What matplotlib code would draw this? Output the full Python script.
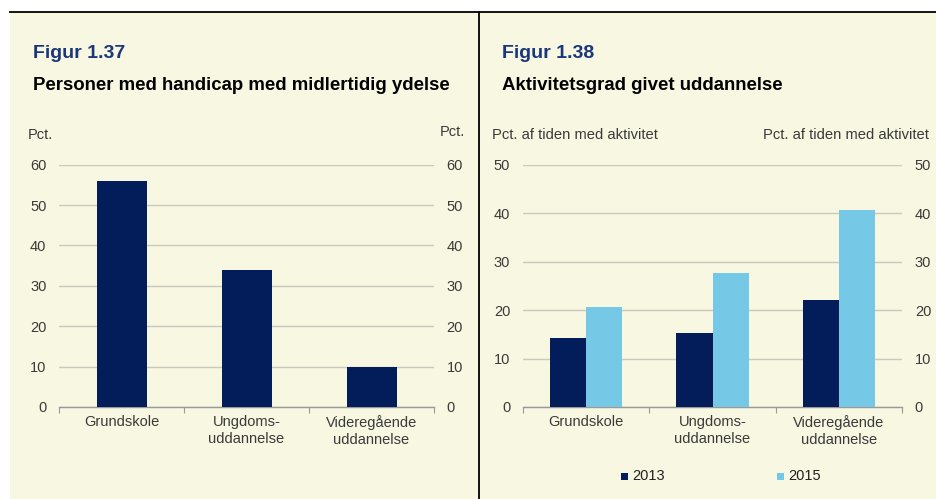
import matplotlib
matplotlib.use("Agg")
import matplotlib.pyplot as plt
from matplotlib.patches import Rectangle
from matplotlib.lines import Line2D
import numpy as np

plt.rcParams['font.family'] = ['Liberation Sans', 'DejaVu Sans']

# ---- data ----
categories = ["Grundskole", "Ungdoms-\nuddannelse", "Videregående\nuddannelse"]
handicap_values = [56, 34, 10]
series_names = ["2013", "2015"]
activity_2013 = [14.2, 15.3, 22.1]
activity_2015 = [20.7, 27.65, 40.65]
left_yticks = [0, 10, 20, 30, 40, 50, 60]
right_yticks = [0, 10, 20, 30, 40, 50]

W, H = 936, 499
NAVY = "#031C5A"
LIGHT = "#76C8E7"
BG = "#F8F7E1"
GRID = "#C9C9BE"
TXT = "#3A3A3A"
TITLE_BLUE = "#1A377A"

fig = plt.figure(figsize=(W / 100, H / 100), dpi=100)
fig.patch.set_facecolor("white")

def fx(px):
    return px / W

def fy(py):
    return 1 - py / H

# beige panel
fig.patches.append(Rectangle((fx(10), 0), 1 - fx(10), fy(12), transform=fig.transFigure,
                             facecolor=BG, edgecolor="none", zorder=-10))
fig.lines.append(Line2D([fx(10), 1], [fy(12), fy(12)], transform=fig.transFigure,
                        color="black", lw=1.3, zorder=5))
fig.lines.append(Line2D([fx(479.5), fx(479.5)], [0, fy(12)], transform=fig.transFigure,
                        color="black", lw=1.3, zorder=5))

# titles
fig.text(fx(33), fy(53), "Figur 1.37", fontsize=14, fontweight="bold", color=TITLE_BLUE, va="center")
fig.text(fx(33), fy(86), "Personer med handicap med midlertidig ydelse", fontsize=13.45,
         fontweight="bold", color="black", va="center")
fig.text(fx(502), fy(53), "Figur 1.38", fontsize=14, fontweight="bold", color=TITLE_BLUE, va="center")
fig.text(fx(502), fy(86), "Aktivitetsgrad givet uddannelse", fontsize=13.45,
         fontweight="bold", color="black", va="center")

# axis unit labels
fig.text(fx(28), fy(135), "Pct.", fontsize=10.5, color=TXT, va="center", ha="left")
fig.text(fx(465), fy(132), "Pct.", fontsize=10.5, color=TXT, va="center", ha="right")
fig.text(fx(492), fy(135), "Pct. af tiden med aktivitet", fontsize=10.6, color=TXT, va="center", ha="left")
fig.text(fx(929), fy(135), "Pct. af tiden med aktivitet", fontsize=10.6, color=TXT, va="center", ha="right")

def style_axes(ax, ymax, yticks):
    ax.set_facecolor("none")
    ax.set_ylim(0, ymax)
    ax.set_xlim(-0.5, len(categories) - 0.5)
    for s in ["top", "left", "right"]:
        ax.spines[s].set_visible(False)
    ax.spines["bottom"].set_color("#9A9A9A")
    ax.spines["bottom"].set_linewidth(1.0)
    ax.set_yticks(yticks)
    ax.yaxis.grid(True, color=GRID, lw=1.0)
    ax.set_axisbelow(True)
    ax.tick_params(axis="y", length=0, pad=9, labelsize=10.5, labelcolor=TXT,
                   left=True, right=True, labelleft=True, labelright=True)
    ax.set_xticks(np.arange(len(categories) + 1) - 0.5)
    ax.set_xticklabels([])
    ax.tick_params(axis="x", which="major", length=4, color="#9A9A9A", direction="out")
    ax.set_xticks(np.arange(len(categories)), minor=True)
    ax.set_xticklabels(categories, minor=True, fontsize=10.5, color=TXT)
    ax.tick_params(axis="x", which="minor", length=0, pad=6)

# left chart
ax1 = fig.add_axes([fx(59), fy(407), fx(434) - fx(59), fy(164.7) - fy(407)])
x = np.arange(len(categories))
ax1.bar(x, handicap_values, width=0.4, color=NAVY, zorder=3)
style_axes(ax1, 60, left_yticks)

# right chart
ax2 = fig.add_axes([fx(522.7), fy(407), fx(902.3) - fx(522.7), fy(164.7) - fy(407)])
bw = 0.285
ax2.bar(x - bw / 2, activity_2013, width=bw, color=NAVY, zorder=3)
ax2.bar(x + bw / 2, activity_2015, width=bw, color=LIGHT, zorder=3)
style_axes(ax2, 50, right_yticks)

# legend (manual)
for name, col, px in [(series_names[0], NAVY, 621), (series_names[1], LIGHT, 777)]:
    fig.patches.append(Rectangle((fx(px), fy(479.5)), fx(7), 7 / H, transform=fig.transFigure,
                                 facecolor=col, edgecolor="none", zorder=4))
    fig.text(fx(px + 11), fy(476), name, fontsize=10.5, color="#222222", va="center", ha="left")

fig.savefig("out.png", dpi=100, facecolor=fig.get_facecolor())
